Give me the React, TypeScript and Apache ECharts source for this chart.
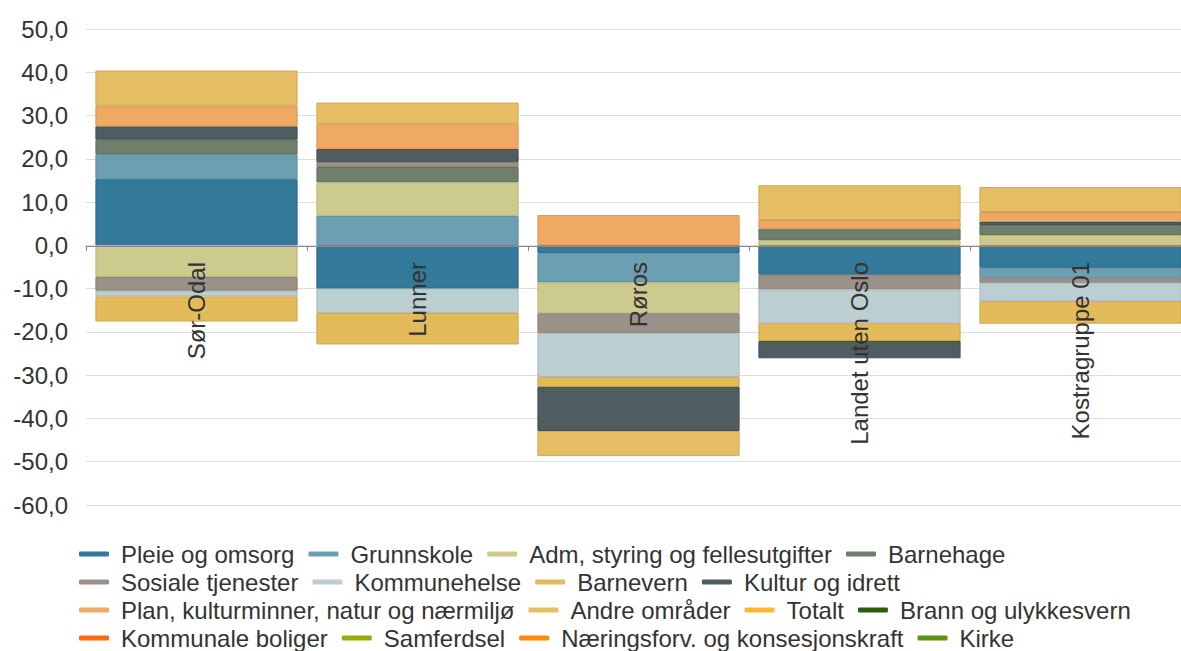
import React, { useEffect, useRef } from "react";
import * as echarts from "echarts";

const categories = ["Sør-Odal", "Lunner", "Røros", "Landet uten Oslo", "Kostragruppe 01"];

const seriesNames = [
  "Pleie og omsorg",
  "Grunnskole",
  "Adm, styring og fellesutgifter",
  "Barnehage",
  "Sosiale tjenester",
  "Kommunehelse",
  "Barnevern",
  "Kultur og idrett",
  "Plan, kulturminner, natur og nærmiljø",
  "Andre områder",
  "Totalt",
  "Brann og ulykkesvern",
  "Kommunale boliger",
  "Samferdsel",
  "Næringsforv. og konsesjonskraft",
  "Kirke",
];

const pleie = [15.3, -10.0, -1.8, -6.8, -5.2];
const grunnskole = [5.8, 6.8, -6.8, null, -2.3];
const adm = [-7.3, 7.8, -7.1, 1.2, 2.4];
const barnehage = [3.3, 3.5, null, 2.65, 2.3];
const sosiale = [-3.2, 1.15, -4.6, -3.4, -1.15];
const kommunehelse = [-1.3, -5.6, -10.1, -7.8, -4.25];
const barnevern = [-5.8, -7.3, -2.3, -4.1, -5.2];
const kultur = [3.1, 3.05, -10.2, -4.0, 0.7];
const plan = [4.8, 5.8, 7.0, 2.0, 2.3];
const andre = [8.1, 4.9, -5.8, 8.05, 5.8];
const totalt: (number | null)[] = [];
const brann: (number | null)[] = [];
const kommunaleBoliger: (number | null)[] = [];
const samferdsel: (number | null)[] = [];
const naering: (number | null)[] = [];
const kirke: (number | null)[] = [];

const seriesData = [
  pleie, grunnskole, adm, barnehage, sosiale, kommunehelse, barnevern, kultur,
  plan, andre, totalt, brann, kommunaleBoliger, samferdsel, naering, kirke,
];

const colors = [
  "#32799A", "#6C9FB2", "#CCCA8C", "#6E806C", "#9C9188", "#BBCFD0", "#E3BB5B", "#4F5D63",
  "#EFA962", "#E5BE63", "#FFB732", "#2E5E0C", "#FF6A10", "#9BAA0A", "#FF8A0A", "#5E9412",
];
const borders = [
  "#2A6886", "#5F8FA1", "#B8B679", "#60715F", "#8A8077", "#A7BCBD", "#CFA649", "#434F55",
  "#DB9550", "#D0AA51", "#FFB732", "#2E5E0C", "#FF6A10", "#9BAA0A", "#FF8A0A", "#5E9412",
];

const yTicks = [50, 40, 30, 20, 10, 0, -10, -20, -30, -40, -50, -60];

const legendRows = [
  seriesNames.slice(0, 4),
  seriesNames.slice(4, 8),
  seriesNames.slice(8, 12),
  seriesNames.slice(12, 16),
];

export default function App() {
  const ref = useRef<HTMLDivElement>(null);
  useEffect(() => {
    if (!ref.current) return;
    const chart = echarts.init(ref.current, null, { renderer: "svg" });
    const font = "'Liberation Sans', Arial, sans-serif";
    const series = seriesNames.map((name, i) => {
      if (name === "Totalt") {
        return {
          name,
          type: "line",
          data: seriesData[i],
          itemStyle: { color: colors[i] },
          lineStyle: { color: colors[i] },
          symbol: "none",
        };
      }
      return {
        name,
        type: "bar",
        stack: "total",
        data: seriesData[i],
        barCategoryGap: "8.5%",
        itemStyle: { color: colors[i], borderColor: borders[i], borderWidth: 1 },
      };
    });
    chart.setOption({
      animation: false,
      color: colors,
      textStyle: { fontFamily: font },
      grid: { left: 86, top: 29, width: 1105, height: 476, containLabel: false, outerBoundsMode: "none" },
      legend: legendRows.map((row, r) => ({
        data: row,
        left: 79,
        top: 540 + r * 28,
        padding: 0,
        orient: "horizontal",
        icon: "roundRect",
        itemWidth: 30,
        itemHeight: 5,
        itemGap: 14,
        selectedMode: false,
        itemStyle: { borderWidth: 0 },
        textStyle: {
          fontFamily: font,
          fontSize: 24,
          color: "#333333",
          lineHeight: 28,
          padding: [0, 0, 0, 7],
        },
      })),
      xAxis: {
        type: "category",
        data: categories,
        position: "bottom",
        offset: -259,
        axisLine: { onZero: false, lineStyle: { color: "#888888" } },
        axisTick: { show: true, length: 5, lineStyle: { color: "#888888" } },
        axisLabel: {
          rotate: 90,
          margin: 16,
          fontSize: 24,
          color: "#333333",
          fontFamily: font,
        },
        z: 3,
      },
      yAxis: {
        type: "value",
        min: -60,
        max: 50,
        interval: 10,
        axisLine: { show: false },
        axisTick: { show: false },
        splitLine: { lineStyle: { color: "#DDDDDD" } },
        axisLabel: {
          margin: 18,
          fontSize: 24,
          color: "#333333",
          fontFamily: font,
          formatter: (v: number) => (yTicks.includes(v) ? v.toFixed(1).replace(".", ",") : ""),
        },
      },
      series,
    });
    return () => chart.dispose();
  }, []);
  return (
    <div
      ref={ref}
      style={{ position: "fixed", left: 0, top: 0, width: 1181, height: 651, background: "#ffffff" }}
    />
  );
}
